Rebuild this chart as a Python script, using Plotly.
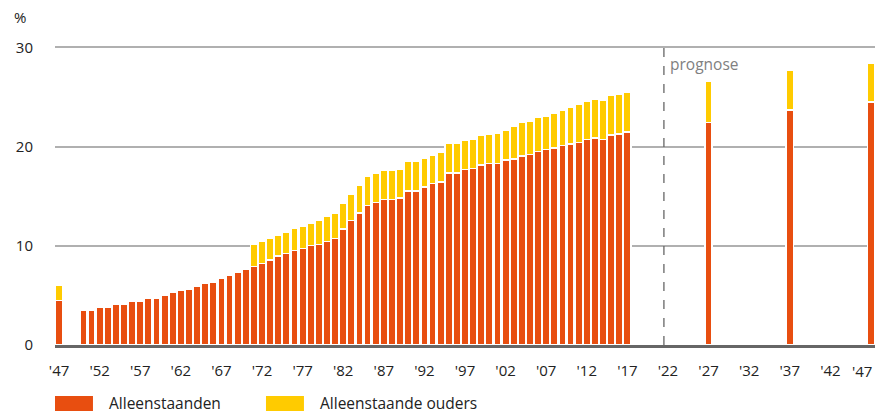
import plotly.graph_objects as go

# Aandeel huishoudens (%), lezing uit de grafiek
years = [1947] + list(range(1950, 2018)) + [2027, 2037, 2047]

alleenstaanden = [
    4.5,
    3.5, 3.5, 3.8, 3.8, 4.15, 4.15, 4.45, 4.45, 4.75, 4.75,
    5.05, 5.35, 5.5, 5.65, 5.95, 6.25, 6.35, 6.7, 7.0, 7.3,
    7.6, 7.9, 8.2, 8.55, 8.95, 9.25, 9.55, 9.75, 10.05, 10.15,
    10.45, 10.75, 11.7, 12.55, 13.3, 14.05, 14.35, 14.65, 14.65, 14.8,
    15.55, 15.55, 15.95, 16.3, 16.45, 17.35, 17.35, 17.7, 17.8, 18.15,
    18.3, 18.3, 18.65, 18.75, 19.05, 19.2, 19.5, 19.7, 19.85, 20.1,
    20.25, 20.4, 20.7, 20.85, 20.7, 21.15, 21.3, 21.5,
    22.45, 23.7, 24.5,
]

alleenstaande_ouders = [
    1.5,
    None, None, None, None, None, None, None, None, None, None,
    None, None, None, None, None, None, None, None, None, None,
    None, 2.25, 2.25, 2.2, 2.1, 2.1, 2.25, 2.2, 2.2, 2.4,
    2.5, 2.55, 2.6, 2.65, 2.8, 2.95, 2.95, 2.95, 2.95, 2.95,
    2.95, 2.95, 2.85, 2.85, 2.95, 2.95, 2.95, 2.9, 2.95, 2.95,
    3.0, 3.1, 3.05, 3.3, 3.4, 3.4, 3.45, 3.35, 3.5, 3.55,
    3.7, 3.85, 3.85, 3.9, 4.0, 4.0, 4.0, 3.95,
    4.15, 4.0, 3.95,
]

tick_years = list(range(1947, 2043, 5))
tick_labels = ["'" + str(y)[2:] for y in tick_years]
last_tick_label = "'47"  # 2047, rechts uitgelijnd tegen de rand

ORANGE = "#E84E10"
YELLOW = "#FFCB00"
TEXT = "#222222"
FONT = "Open Sans"

fig = go.Figure()
fig.add_trace(go.Bar(
    x=years, y=alleenstaanden, name="Alleenstaanden",
    marker=dict(color=ORANGE, line=dict(color="white", width=1.5)),
    width=0.9, showlegend=False,
))
fig.add_trace(go.Bar(
    x=years, y=alleenstaande_ouders, name="Alleenstaande ouders",
    marker=dict(color=YELLOW, line=dict(color="white", width=1.5)),
    width=0.9, showlegend=False,
))

# prognose scheidingslijn
fig.add_shape(type="line", x0=2021.5, x1=2021.5, y0=0, y1=30, xref="x", yref="y",
              line=dict(color="#666666", width=1.3, dash="dash"))
fig.add_annotation(x=2021.5, y=28.3, xref="x", yref="y", text="prognose",
                   showarrow=False, xanchor="left", xshift=4,
                   font=dict(family=FONT, size=15.5, color="#808080"))

fig.add_annotation(x=-0.043, y=1.09, xref="paper", yref="paper", text="%",
                   showarrow=False, xanchor="center", yanchor="middle",
                   font=dict(family=FONT, size=15, color=TEXT))

# laatste x-label
fig.add_annotation(x=1, y=-0.088, xref="paper", yref="paper", text=last_tick_label,
                   showarrow=False, xanchor="right", yanchor="middle", xshift=-1,
                   font=dict(family=FONT, size=15, color=TEXT))

# legenda
legend_items = [("Alleenstaanden", ORANGE, 0.0), ("Alleenstaande ouders", YELLOW, 0.2573)]
for label, color, x0 in legend_items:
    fig.add_shape(type="rect", xref="paper", yref="paper",
                  x0=x0, x1=x0 + 0.0463, y0=-0.1694, y1=-0.2193,
                  fillcolor=color, line=dict(width=0))
    fig.add_annotation(x=x0 + 0.0634, y=-0.194, xref="paper", yref="paper",
                       text=label, showarrow=False, xanchor="left", yanchor="middle",
                       font=dict(family=FONT, size=15.5, color=TEXT))

fig.update_layout(
    width=875, height=414,
    margin=dict(l=55, r=0, t=44, b=69, autoexpand=False),
    barmode="stack",
    plot_bgcolor="white", paper_bgcolor="white",
    font=dict(family=FONT, size=15, color=TEXT),
    showlegend=False,
)
fig.update_xaxes(
    range=[1946.5, 2047.5], tickvals=tick_years, ticktext=tick_labels,
    showgrid=False, zeroline=False, showline=True, linecolor="#666666", linewidth=3,
    ticks="", ticklabelstandoff=10, ticklabeloverflow="allow", automargin=False,
)
fig.update_yaxes(
    range=[0, 30.35], tickvals=[0, 10, 20, 30],
    showgrid=True, gridcolor="#b0b0b0", gridwidth=2, zeroline=False,
    ticks="", ticklabelstandoff=21, automargin=False,
)

fig.write_html("out.html", config={"displayModeBar": False},
               post_script="document.body.style.margin='0';")
